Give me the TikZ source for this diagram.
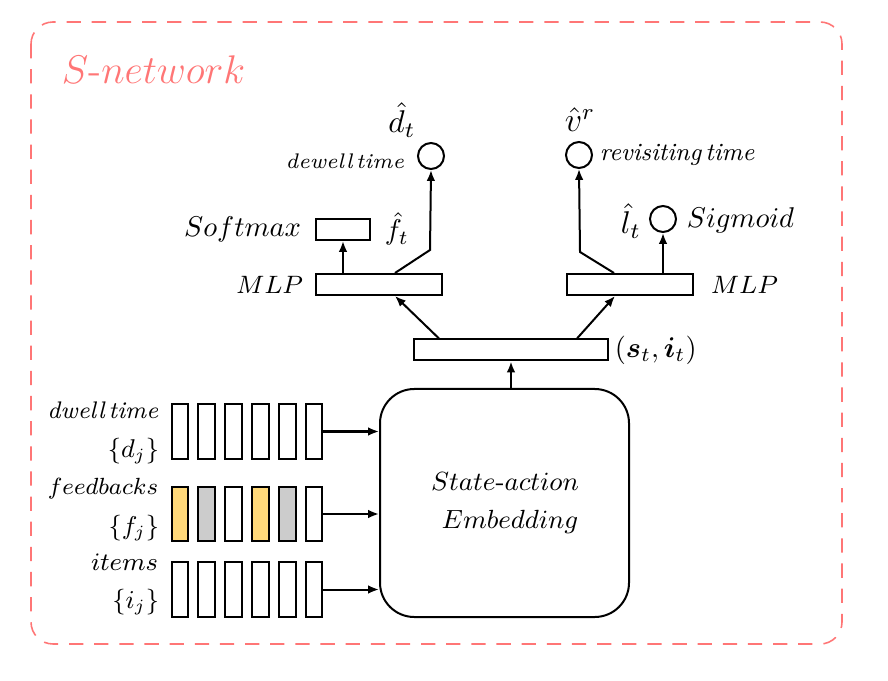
\RequirePackage{fix-cm}
\documentclass[tikz,border=0pt]{standalone}
\usepackage{amsmath,bm}
\usetikzlibrary{arrows.meta,calc}
\definecolor{netred}{RGB}{255,118,118}
\definecolor{fbyellow}{RGB}{255,217,122}
\definecolor{fbgray}{RGB}{204,204,204}
\begin{document}
\begin{tikzpicture}[x=0.35pt,y=-0.35pt, line width=0.7pt,
  >={Latex[length=3.8pt,width=3pt]},
  fs/.style={font=\fontsize{#1}{#1}\selectfont},
  txt/.style={inner sep=1pt},
  bx/.style={draw, inner sep=0pt, fill=white},
  circ/.style={draw, circle, inner sep=0pt, minimum size=26*0.35pt},
  bar/.style={draw, inner sep=0pt, minimum width=16.7*0.35pt, minimum height=55*0.35pt}]
\useasboundingbox (0,0) rectangle (888,681);
% frame
\draw[netred, line width=0.55pt, dash pattern=on 5pt off 3.8pt, rounded corners=7.7pt] (31,22) rectangle (842,644);
\node[txt, fs=14, text=netred, anchor=west] (title) at (58,70) {$S$-$network$};
% main boxes
\node[draw, inner sep=0pt, rounded corners=12pt, minimum width=249*0.35pt, minimum height=228*0.35pt] (emb) at (504.5,503) {};
\node[txt, fs=9.2] (emb1) at (505,482) {$State$-$action$};
\node[txt, fs=9.2] (emb2) at (510,522) {$Embedding$};
\node[bx, minimum width=194*0.35pt, minimum height=21*0.35pt] (cat) at (511,350) {};
\node[bx, minimum width=126*0.35pt, minimum height=21*0.35pt] (mlpL) at (379,284.5) {};
\node[bx, minimum width=126*0.35pt, minimum height=21*0.35pt] (mlpR) at (630,284.5) {};
\node[bx, minimum width=54*0.35pt, minimum height=21*0.35pt] (soft) at (343,229.5) {};
\node[circ] (cd) at (431,156) {};
\node[circ] (cv) at (579,155) {};
\node[circ] (cl) at (663,219) {};
% bars
\foreach \i/\c in {0/white,1/white,2/white,3/white,4/white,5/white}
  \node[bar, fill=\c] (d\i) at (180+26.8*\i,431.5) {};
\foreach \i/\c in {0/fbyellow,1/fbgray,2/white,3/fbyellow,4/fbgray,5/white}
  \node[bar, fill=\c, minimum height=54*0.35pt] (f\i) at (180+26.8*\i,514) {};
\foreach \i/\c in {0/white,1/white,2/white,3/white,4/white,5/white}
  \node[bar, fill=\c] (i\i) at (180+26.8*\i,589.5) {};
% arrows from bars
\draw[->] (d5.east) -- (d5.east -| emb.west);
\draw[->] (f5.east) -- (f5.east -| emb.west);
\draw[->] (i5.east) -- (i5.east -| emb.west);
% up arrows
\draw[->] (cat.south |- emb.north) -- (cat.south);
\draw[->] ($(cat.north west)+(26,0)$) -- ($(mlpL.south)+(16,0)$);
\draw[->] ($(cat.north east)+(-32,0)$) -- ($(mlpR.south)+(-15,0)$);
\draw[->] (soft.south |- mlpL.north) -- (soft.south);
\coordinate (kL) at (430,250);
\coordinate (kR) at (580,252);
\draw[->] ($(mlpL.north)+(16,0)$) -- (kL) -- (cd.south);
\draw[->] ($(mlpR.north)+(-16,0)$) -- (kR) -- (cv.south);
\draw[->] (cl.south |- mlpR.north) -- (cl.south);
% labels
\node[txt, fs=10, anchor=east] (lsoft) at (305,229) {$Softmax$};
\node[txt, fs=10, anchor=west] (lf) at (381,229) {$\hat{f}_t$};
\node[txt, fs=8.8, anchor=east] (lmlpL) at (307,285) {$MLP$};
\node[txt, fs=8.8, anchor=west] (lmlpR) at (707,285) {$MLP$};
\node[txt, fs=7.4, anchor=east] (ldw) at (408,161) {\itshape dewell\,time};
\node[txt, fs=11] (ld) at (402,120) {$\hat{d}_t$};
\node[txt, fs=8.7, anchor=west] (lrv) at (596,155) {\itshape revisiting\,time};
\node[txt, fs=12] (lv) at (580,120) {$\hat{v}^r$};
\node[txt, fs=11, anchor=east] (ll) at (645,221) {$\hat{l}_t$};
\node[txt, fs=10, anchor=west] (lsig) at (683,220) {$Sigmoid$};
\node[txt, fs=10, anchor=west] (lcat) at (611,350) {$(\bm{s}_t,\bm{i}_t)$};
\node[txt, fs=8.4, anchor=east] (ldwell) at (162,410) {\itshape dwell\,time};
\node[txt, fs=9, anchor=east] (ldj) at (163,451) {$\{d_j\}$};
\node[txt, fs=8.2, anchor=east] (lfb) at (162,489) {$feedbacks$};
\node[txt, fs=8.8, anchor=east] (lit) at (162,562) {$items$};
\node[txt, fs=9, anchor=east] (lfj) at (163,528) {$\{f_j\}$};
\node[txt, fs=9, anchor=east] (lij) at (163,602) {$\{i_j\}$};
\end{tikzpicture}
\end{document}
